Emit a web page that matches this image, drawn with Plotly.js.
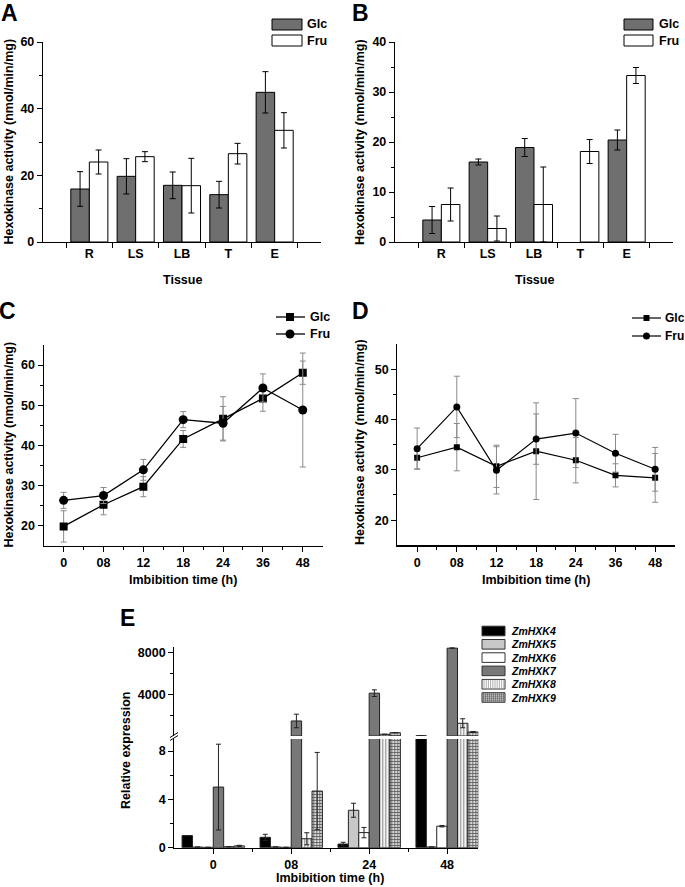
<!DOCTYPE html>
<html><head><meta charset="utf-8">
<script src="https://cdn.plot.ly/plotly-3.0.1.min.js"></script>
<style>html,body{margin:0;padding:0;background:#fff}#chart{width:685px;height:887px}</style>
</head><body><div id="chart"></div>
<script>
const W=685,H=887;
// ---------- data ----------
const tissues=['R','LS','LB','T','E'];
const A_glc=[15.9,19.7,17.0,14.2,44.9];
const A_glc_err=[5.2,5.3,4.0,4.0,6.2];
const A_fru=[24.0,25.6,16.9,26.5,33.5];
const A_fru_err=[3.6,1.5,8.2,3.1,5.3];
const B_glc=[4.4,16.0,18.9,null,20.4];
const B_glc_err=[2.7,0.6,1.8,null,2.0];
const B_fru=[7.5,2.7,7.5,18.1,33.3];
const B_fru_err=[3.3,2.5,7.5,2.4,1.6];
const times=['0','08','12','18','24','36','48'];
const C_glc=[19.8,25.2,29.7,41.6,46.6,51.7,58.1];
const C_glc_err=[3.9,2.5,2.5,2.1,5.5,3.2,2.9];
const C_fru=[26.3,27.5,33.9,46.4,45.5,54.3,48.8];
const C_fru_err=[2.0,2.0,2.6,2.0,4.2,3.5,14.2];
const D_glc=[32.4,34.5,30.7,33.7,31.9,28.9,28.4];
const D_glc_err=[2.2,4.7,4.2,9.6,4.5,2.3,4.85];
const D_fru=[34.2,42.5,29.9,36.1,37.3,33.3,30.1];
const D_fru_err=[4.1,6.1,4.7,5.0,6.85,3.75,4.35];
const E_times=['0','08','24','48'];
const genes=['ZmHXK4','ZmHXK5','ZmHXK6','ZmHXK7','ZmHXK8','ZmHXK9'];
const HXK4=[1.0,0.86,0.3,20];     const HXK4_err=[0,0.25,0.15,0];
const HXK5=[0.05,0.06,3.1,0.06];  const HXK5_err=[0,0,0.58,0];
const HXK6=[0.03,0.03,1.25,1.78]; const HXK6_err=[0,0,0.43,0.06];
const HXK7=[5.02,1440,4100,8420]; const HXK7_err=[3.55,650,320,30];
const HXK8=[0.08,0.74,163,1219];  const HXK8_err=[0.02,0.5,0,430];
const HXK9=[0.15,4.69,317,384];   const HXK9_err=[0.05,3.2,0,50];
const E_vals=[HXK4,HXK5,HXK6,HXK7,HXK8,HXK9];
const E_errs=[HXK4_err,HXK5_err,HXK6_err,HXK7_err,HXK8_err,HXK9_err];
const LOW_MAX=9;

// ---------- style ----------
const FONT='Liberation Sans, Arial, Helvetica, sans-serif';
const tf={family:FONT,size:12.5,color:'#000',weight:700};
const GLC='#6f6f6f';
const E_fill=['#000000','#c8c8c8','#ffffff','#787878','#ffffff','#cfcfcf'];
const E_pat=[null,null,null,null,
  {shape:'|',fgcolor:'#8a8a8a',bgcolor:'#ffffff',size:3,solidity:0.4},
  {shape:'+',fgcolor:'#555555',bgcolor:'#d8d8d8',size:3,solidity:0.45}];

function dom(a,b){return [a/W,b/W];}
function vdom(t,b){return [1-b/H,1-t/H];}
function PX(x){return x/W;}
function PY(y){return 1-y/H;}

const traces=[];
function barPair(xa,ya,glc,ge,fru,fe){
  traces.push({type:'bar',x:tissues,y:glc,xaxis:xa,yaxis:ya,name:'Glc',showlegend:false,
    marker:{color:GLC,line:{color:'#000',width:1}},
    error_y:{type:'data',array:ge,color:'#000',thickness:1,width:3}});
  traces.push({type:'bar',x:tissues,y:fru,xaxis:xa,yaxis:ya,name:'Fru',showlegend:false,
    marker:{color:'#fff',line:{color:'#000',width:1}},
    error_y:{type:'data',array:fe,color:'#000',thickness:1,width:3}});
}
barPair('x','y',A_glc,A_glc_err,A_fru,A_fru_err);
barPair('x2','y2',B_glc,B_glc_err,B_fru,B_fru_err);

function linePair(xa,ya,glc,ge,fru,fe,ms,lw){
  const xi=times.map((_,i)=>i);
  traces.push({type:'scatter',mode:'lines+markers',x:xi,y:glc,xaxis:xa,yaxis:ya,name:'Glc',showlegend:false,
    line:{color:'#000',width:lw},marker:{symbol:'square',size:ms,color:'#000'},
    error_y:{type:'data',array:ge,color:'#8a8a8a',thickness:1,width:3}});
  traces.push({type:'scatter',mode:'lines+markers',x:xi,y:fru,xaxis:xa,yaxis:ya,name:'Fru',showlegend:false,
    line:{color:'#000',width:lw},marker:{symbol:'circle',size:ms+1,color:'#000'},
    error_y:{type:'data',array:fe,color:'#8a8a8a',thickness:1,width:3}});
}
linePair('x3','y3',C_glc,C_glc_err,C_fru,C_fru_err,8,1.3);
linePair('x4','y4',D_glc,D_glc_err,D_fru,D_fru_err,6,1.2);

const exi=E_times.map((_,i)=>i);
genes.forEach((g,i)=>{
  const v=E_vals[i], e=E_errs[i];
  const mk={color:E_fill[i],line:{color:'#222',width:1}};
  if(E_pat[i]) mk.pattern=E_pat[i];
  traces.push({type:'bar',x:exi,y:v,xaxis:'x5',yaxis:'y5',name:g,showlegend:false,marker:mk,
    error_y:{type:'data',array:e.map((x,j)=>v[j]>LOW_MAX||x===0?null:x),color:'#222',thickness:1,width:2.5}});
  traces.push({type:'bar',x:exi,y:v.map(x=>x>LOW_MAX?x:null),xaxis:'x5',yaxis:'y6',name:g,showlegend:false,marker:mk,
    error_y:{type:'data',array:e.map((x,j)=>v[j]>LOW_MAX&&x>0?x:null),color:'#222',thickness:1,width:2.5}});
});

// ---------- axes ----------
const base={showline:true,linecolor:'#000',linewidth:1.2,showgrid:false,zeroline:false,
  ticks:'outside',ticklen:5,tickwidth:1,tickcolor:'#000',tickfont:tf,fixedrange:true};
function minor(vals){return {tickmode:'array',tickvals:vals,ticks:'outside',ticklen:3,tickwidth:1,tickcolor:'#000',showgrid:false};}
function catX(d,anchor){return Object.assign({},base,{domain:d,anchor:anchor,type:'category',range:[-1,5],tickson:'boundaries'});}
function timeX(d,anchor,labels,range){
  const tv=labels.map((_,i)=>i);
  const mv=labels.slice(0,-1).map((_,i)=>i+0.5);
  return Object.assign({},base,{domain:d,anchor:anchor,type:'linear',range:range,tickmode:'array',tickvals:tv,ticktext:labels,minor:minor(mv)});
}
function linY(d,anchor,range,tv,mv){
  return Object.assign({},base,{domain:d,anchor:anchor,range:range,tickmode:'array',tickvals:tv,ticktext:tv.map(String),minor:minor(mv)});
}

const layout={
  width:W,height:H,margin:{l:0,r:0,t:0,b:0},paper_bgcolor:'#fff',plot_bgcolor:'rgba(0,0,0,0)',
  showlegend:false,barmode:'group',bargap:0.2,bargroupgap:0,
  font:{family:FONT,color:'#000'},
  xaxis:catX(dom(43,321),'y'),
  yaxis:linY(vdom(42,242),'x',[0,60],[0,20,40,60],[10,30,50]),
  xaxis2:catX(dom(395,673),'y2'),
  yaxis2:linY(vdom(42,242),'x2',[0,40],[0,10,20,30,40],[5,15,25,35]),
  xaxis3:timeX(dom(43.7,322.7),'y3',times,[-0.5,6.5]),
  yaxis3:linY(vdom(345,545.7),'x3',[15,65],[20,30,40,50,60],[25,35,45,55]),
  xaxis4:timeX(dom(397.3,675),'y4',times,[-0.5,6.5]),
  yaxis4:linY(vdom(344,545.3),'x4',[15,55],[20,30,40,50],[25,35,45]),
  xaxis5:timeX(dom(174.3,478.3),'y5',E_times,[-0.5,3.4]),
  yaxis5:linY(vdom(739,847.7),'x5',[0,LOW_MAX],[0,4,8],[2,6]),
  yaxis6:linY(vdom(647.2,736),'x5',[0,8500],[4000,8000],[2000,6000]),
  annotations:[],shapes:[]
};

const ann=layout.annotations, shp=layout.shapes;
function txt(t,x,y,opt){ann.push(Object.assign({text:t,xref:'paper',yref:'paper',x:PX(x),y:PY(y),showarrow:false,
  xanchor:'center',yanchor:'middle',font:{family:FONT,size:12.5,color:'#000',weight:700}},opt||{}));}
// panel letters
[['A',9,13],['B',361,13],['C',8,311],['D',361,311],['E',127,618]].forEach(p=>txt(p[0],p[1],p[2],{font:{family:FONT,size:23,color:'#000',weight:700}}));
// axis titles
const yt='Hexokinase activity (nmol/min/mg)';
txt(yt,8.5,142,{textangle:-90});
txt(yt,360,142,{textangle:-90});
txt(yt,8.5,445,{textangle:-90});
txt(yt,360,442,{textangle:-90});
txt('Relative expression',126,750,{textangle:-90});
txt('Tissue',182,280);
txt('Tissue',534,280);
txt('Imbibition time (h)',183,580);
txt('Imbibition time (h)',536,580);
txt('Imbibition time (h)',330,878);

function rect(x0,y0,x1,y1,fill,lc){shp.push({type:'rect',xref:'paper',yref:'paper',x0:PX(x0),x1:PX(x1),y0:PY(y1),y1:PY(y0),
  fillcolor:fill,line:{color:lc||'#000',width:1}});}
function seg(x0,y0,x1,y1,c,w){shp.push({type:'line',xref:'paper',yref:'paper',x0:PX(x0),x1:PX(x1),y0:PY(y0),y1:PY(y1),line:{color:c||'#000',width:w||1}});}
function circ(cx,cy,r){shp.push({type:'circle',xref:'paper',yref:'paper',x0:PX(cx-r),x1:PX(cx+r),y0:PY(cy+r),y1:PY(cy-r),fillcolor:'#000',line:{color:'#000',width:0}});}
function sq(cx,cy,r){shp.push({type:'rect',xref:'paper',yref:'paper',x0:PX(cx-r),x1:PX(cx+r),y0:PY(cy+r),y1:PY(cy-r),fillcolor:'#000',line:{color:'#000',width:0}});}

// legend A
rect(272,19,302,30,GLC); rect(272,35,302,46,'#fff');
txt('Glc',305,24.5,{xanchor:'left'}); txt('Fru',305,40.5,{xanchor:'left'});
// legend B
rect(624,19,653,30,GLC); rect(624,35,653,46,'#fff');
txt('Glc',657,24.5,{xanchor:'left'}); txt('Fru',657,40.5,{xanchor:'left'});
// legend C
seg(276,317,305,317,'#000',1.3); sq(290,317,4);
seg(276,334,305,334,'#000',1.3); circ(290,334,4.5);
txt('Glc',308,317,{xanchor:'left'}); txt('Fru',308,334,{xanchor:'left'});
// legend D
seg(632,318,661,318,'#000',1.2); sq(646.5,318,3);
seg(632,336,661,336,'#000',1.2); circ(646.5,336,3.5);
txt('Glc',663,318,{xanchor:'left',font:{family:FONT,size:12,color:'#000',weight:700}});
txt('Fru',663,336,{xanchor:'left',font:{family:FONT,size:12,color:'#000',weight:700}});
// legend E
genes.forEach((g,i)=>{
  const cy=631+i*13.3, y0=cy-4.8, y1=cy+4.8, x0=482, x1=505;
  rect(x0,y0,x1,y1,E_fill[i],'#333');
  if(i===4){for(let x=x0+2;x<x1;x+=2.2) seg(x,y0+0.5,x,y1-0.5,'#999',0.8);}
  if(i===5){for(let x=x0+1.5;x<x1;x+=2) seg(x,y0+0.5,x,y1-0.5,'#666',0.7);
            for(let y=y0+1.5;y<y1;y+=2) seg(x0+0.5,y,x1-0.5,y,'#666',0.7);}
  txt('<i>'+g+'</i>',509,cy,{xanchor:'left',font:{family:FONT,size:10.5,color:'#000',weight:700}});
});
// axis break marks
seg(170,740.5,178,735.5,'#000',1); seg(170,737.5,178,732.5,'#000',1);

Plotly.newPlot('chart',traces,layout,{staticPlot:true,displayModeBar:false});
</script>
</body></html>
